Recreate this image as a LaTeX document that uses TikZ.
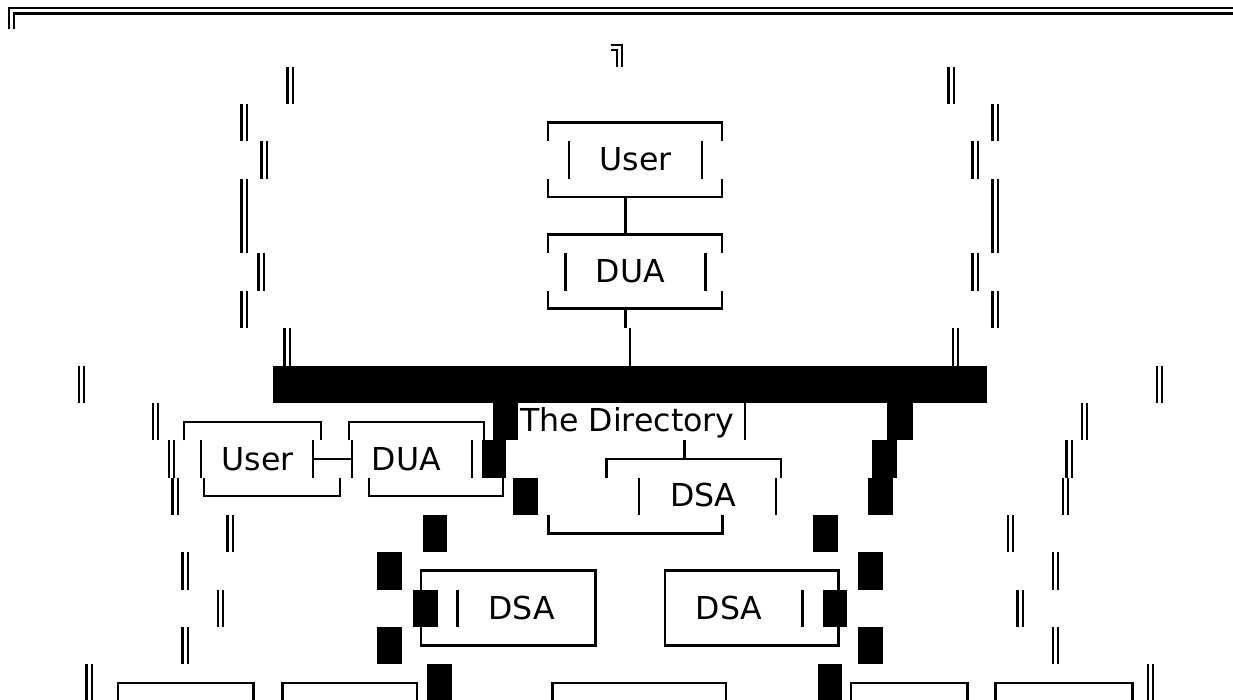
\documentclass[tikz,border=0pt]{standalone}
\usepackage{fontspec}
\setmainfont{DejaVu Sans}
\begin{document}
\begin{tikzpicture}[x=1pt,y=-1pt,
  ln/.style={line width=2.6pt, line cap=butt, line join=miter},
  dbl/.style={line width=2.4pt, double, double distance=3pt, line cap=butt},
  blk/.style={fill=black, draw=none},
  lbl/.style={inner sep=0pt, anchor=base, font=\fontsize{31.6}{37}\selectfont}]
\fill[white] (0,0) rectangle (1233,700);
\useasboundingbox (0,0) rectangle (1233,700);

% top double border and corner
\draw[dbl] (11.5,29.35) -- (11.5,10.7) -- (1233,10.7);
\draw[dbl] (611,47.5) -- (619.5,47.5) -- (619.5,66.7);

% double vertical strokes, left side
\foreach \x/\a/\b in {290/66.7/104.05, 244/104.05/141.4, 264/141.4/178.75,
  244/178.75/253.45, 261/253.45/290.8, 244/290.8/328.15, 287/328.15/365.5,
  81.5/365.5/402.85, 155.5/402.85/440.2, 171.5/440.2/477.55, 175/477.55/514.9,
  230/514.9/552.25, 185/552.25/589.6, 220.5/589.6/626.95, 185/626.95/664.3,
  89/664.3/700}
  \draw[dbl] (\x,\a) -- (\x,\b);
% double vertical strokes, right side
\foreach \x/\a/\b in {951/66.7/104.05, 995/104.05/141.4, 975/141.4/178.75,
  995/178.75/253.45, 975/253.45/290.8, 995/290.8/328.15, 955.5/328.15/365.5,
  1159.5/365.5/402.85, 1084.5/402.85/440.2, 1069/440.2/477.55, 1065.5/477.55/514.9,
  1010.5/514.9/552.25, 1055.5/552.25/589.6, 1020/589.6/626.95, 1055.5/626.95/664.3,
  1150.5/664.3/700}
  \draw[dbl] (\x,\a) -- (\x,\b);

% the directory bar
\fill[blk] (273,365.5) rectangle (987,402.85);

% top User box
\node[lbl] (user1) at (635.5,170.7) {User};
\draw[ln] (548,141.4) -- (548,122.7) -- (722,122.7) -- (722,141.4);
\draw[ln] (569,141.4) -- (569,178.75);
\draw[ln] (702,141.4) -- (702,178.75);
\draw[ln] (548,178.75) -- (548,197) -- (722,197) -- (722,178.75);
% top DUA box
\node[lbl] (dua1) at (630.5,282.7) {DUA};
\draw[ln] (548,253.45) -- (548,234.5) -- (722,234.5) -- (722,253.45);
\draw[ln] (565.7,253.45) -- (565.7,290.8);
\draw[ln] (705.7,253.45) -- (705.7,290.8);
\draw[ln] (548,290.8) -- (548,308.8) -- (722,308.8) -- (722,290.8);
\coordinate (c1) at (625.7,197);
\coordinate (c2) at (625.7,234.5);
\draw[ln] (c1) -- (c2);
\coordinate (c3) at (625.7,308.8);
\coordinate (c4) at (625.7,328.15);
\draw[ln] (c3) -- (c4);
\coordinate (c5) at (630,328.15);
\coordinate (c6) at (630,365.5);
\draw[ln] (c5) -- (c6);

% small User box
\node[lbl] (user2) at (257.5,470) {User};
\draw[ln] (184,440.2) -- (184,422) -- (321,422) -- (321,440.2);
\draw[ln] (201,440.2) -- (201,477.55);
\draw[ln] (313,440.2) -- (313,477.55);
\draw[ln] (352,440.2) -- (352,477.55);
\coordinate (c7) at (313,459);
\coordinate (c8) at (352,459);
\draw[ln] (c7) -- (c8);
\draw[ln] (204,477.55) -- (204,496) -- (340,496) -- (340,477.55);
% small DUA box
\node[lbl] (dua2) at (406.5,470) {DUA};
\draw[ln] (349,440.2) -- (349,422) -- (484,422) -- (484,440.2);
\draw[ln] (472,440.2) -- (472,477.55);
\draw[ln] (369,477.55) -- (369,496) -- (503,496) -- (503,477.55);

% The Directory
\node[lbl] (dir) at (627.3,431.7) {The Directory};
\draw[ln] (745,402.85) -- (745,440.2);
\draw[ln] (684.3,440.2) -- (684.3,459);
\draw[ln] (606.7,477.55) -- (606.7,459) -- (781,459) -- (781,477.55);
\node[lbl] (dsa1) at (703.3,506.7) {DSA};
\draw[ln] (639,477.55) -- (639,514.9);
\draw[ln] (776,477.55) -- (776,514.9);
\draw[ln] (548.3,514.9) -- (548.3,533.3) -- (722.3,533.3) -- (722.3,514.9);

% middle DSA boxes
\draw[ln] (421,570.7) rectangle (595.7,645.3);
\draw[ln] (457.3,589.6) -- (457.3,626.95);
\node[lbl] (dsa2) at (521.7,619) {DSA};
\draw[ln] (665,570.7) rectangle (838.3,645.3);
\draw[ln] (802.7,589.6) -- (802.7,626.95);
\node[lbl] (dsa3) at (729.2,619) {DSA};

% bottom boxes (tops only)
\foreach \a/\b in {118/253.3, 282.7/417, 552.7/726, 851/967.3, 995.7/1132.3}
  \draw[ln] (\a,701) -- (\a,683) -- (\b,683) -- (\b,701);

% black blocks
\foreach \a/\b/\t in {493/518/402.85, 887/913/402.85,
  482/506/440.2, 872/897/440.2,
  513/538/477.55, 868/893/477.55,
  423/447/514.9, 813/838/514.9,
  377/402/552.25, 858/883/552.25,
  413/438/589.6, 823/847/589.6,
  377/402/626.95, 858/883/626.95,
  427/452/664.3, 818/842/664.3}
  \fill[blk] (\a,\t) rectangle (\b,\t+37.35);
\end{tikzpicture}
\end{document}
